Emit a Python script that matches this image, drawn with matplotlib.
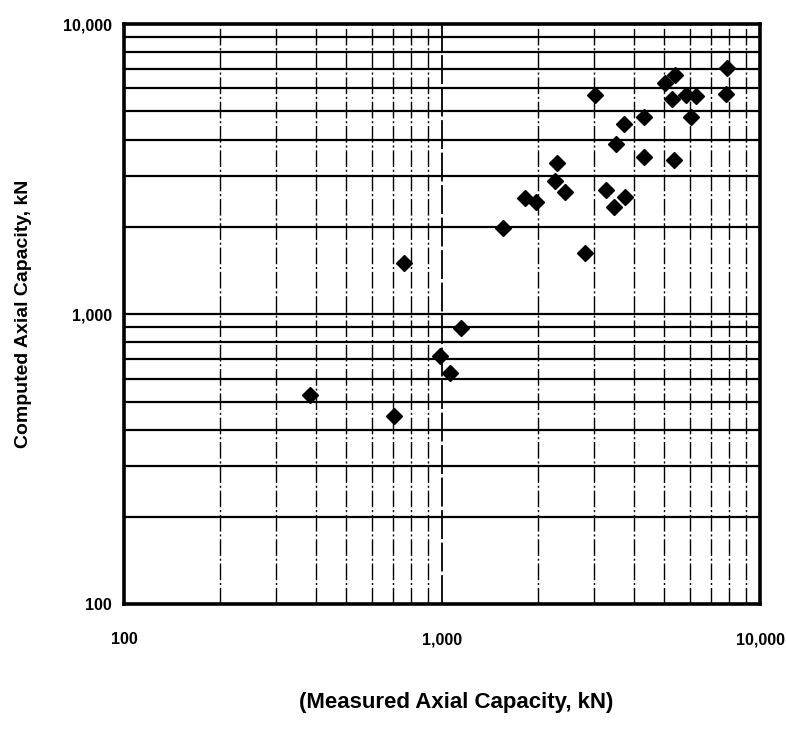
import numpy as np
import matplotlib.pyplot as plt
from matplotlib.ticker import FixedLocator, NullFormatter

# measured vs computed axial capacity (kN)
measured = [385, 706, 758, 987, 1055, 1145, 1549, 1825, 1977, 2263,
            2294, 2440, 2818, 3027, 3283, 3484, 3515, 3744, 3769, 4311,
            4324, 5023, 5396, 5293, 5363, 5850, 6290, 6081, 7855, 7818]
computed = [528, 445, 1507, 716, 626, 898, 1982, 2523, 2431, 2879,
            3324, 2644, 1630, 5701, 2680, 2344, 3871, 4510, 2541, 3475,
            4776, 6283, 6698, 5537, 3407, 5680, 5640, 4767, 7080, 5755]

major = [100, 1000, 10000]
major_labels = ["100", "1,000", "10,000"]
minor = [m * d for d in (100, 1000) for m in range(2, 10)]

plt.rcParams['font.family'] = ['Liberation Sans', 'DejaVu Sans']

fig = plt.figure(figsize=(7.86, 7.29), dpi=100)
ax = fig.add_axes([0.158, 0.171, 0.809, 0.796])
ax.set_xscale('log')
ax.set_yscale('log')
ax.set_xlim(100, 10000)
ax.set_ylim(100, 10000)

# horizontal grid: solid, vertical grid: broken dash-dot like the scan
for v in minor:
    ax.axhline(v, color='black', lw=1.6, zorder=1)
for v in minor:
    ax.axvline(v, color='black', lw=1.0, ls=(0, (12, 2, 1.5, 2)), zorder=1)
ax.axhline(1000, color='black', lw=1.6, zorder=1)
ax.axvline(1000, color='black', lw=1.3, ls=(0, (16, 2)), zorder=1)

ax.plot(measured, computed, ls='none', marker='D', ms=8.5,
        color='black', zorder=3)

ax.xaxis.set_major_locator(FixedLocator(major))
ax.yaxis.set_major_locator(FixedLocator(major))
ax.set_xticklabels(major_labels, fontweight='bold', fontsize=11.5)
ax.set_yticklabels(major_labels, fontweight='bold', fontsize=11.5)
ax.xaxis.set_minor_formatter(NullFormatter())
ax.yaxis.set_minor_formatter(NullFormatter())
ax.tick_params(which='both', length=0)
ax.tick_params(axis='x', pad=20)
ax.tick_params(axis='y', pad=9)

for s in ax.spines.values():
    s.set_linewidth(2.6)
    s.set_zorder(4)

ax.set_ylabel("Computed Axial Capacity, kN", fontweight='bold', fontsize=14,
              labelpad=22)
fig.text(0.58, 0.022, "(Measured Axial Capacity, kN)", fontweight='bold',
         fontsize=16, ha='center', va='bottom')

fig.savefig('out.png', dpi=100)
